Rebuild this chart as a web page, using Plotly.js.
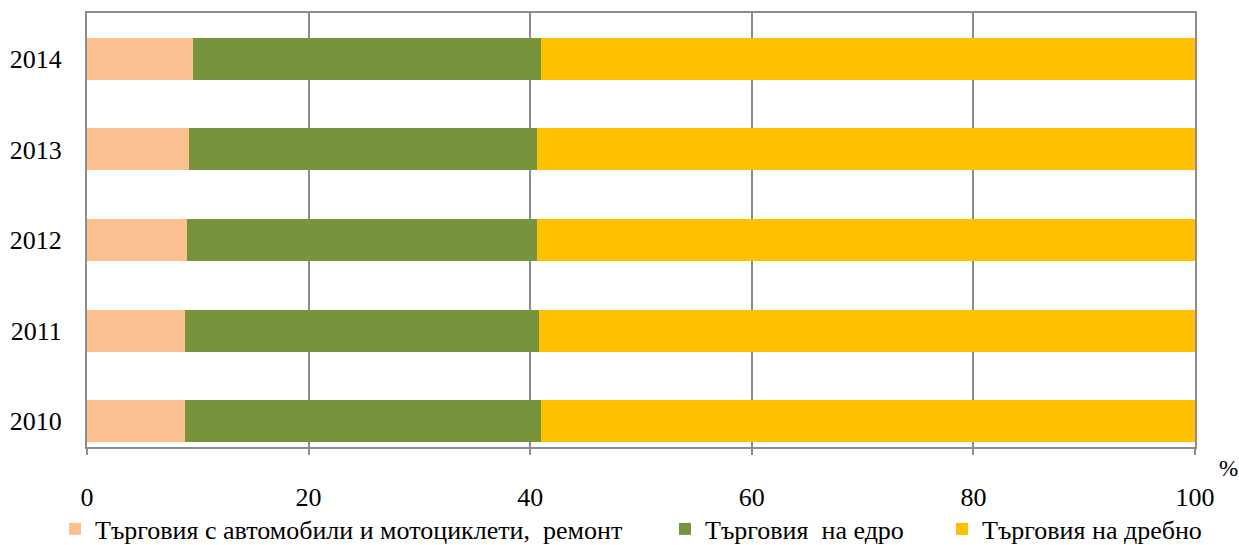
<!DOCTYPE html>
<html>
<head>
<meta charset="utf-8">
<script src="https://cdn.plot.ly/plotly-3.0.1.min.js"></script>
<style>html,body{margin:0;padding:0;background:#fff;}#chart{width:1239px;height:545px;}</style>
</head>
<body>
<div id="chart"></div>
<script>
const years = ["2010", "2011", "2012", "2013", "2014"];
const seriesNames = ["Търговия с автомобили и мотоциклети,\u00a0 ремонт", "Търговия\u00a0 на едро", "Търговия на дребно"];
const autoRepair = [8.87, 8.87, 9.05, 9.23, 9.6];
const wholesale = [32.07, 31.89, 31.53, 31.35, 31.34];
const retail = [59.06, 59.24, 59.42, 59.42, 59.06];
const xTicks = [0, 20, 40, 60, 80, 100];
const colors = ["#FAC090", "#77933C", "#FFC000"];

const serif = "Liberation Serif, Times New Roman, serif";
const vals = [autoRepair, wholesale, retail];
const legendIds = ["legend", "legend2", "legend3"];
const traces = vals.map((v, i) => ({
  type: "bar",
  orientation: "h",
  y: years,
  x: v,
  name: seriesNames[i],
  legend: legendIds[i],
  marker: {color: colors[i], line: {width: 0}},
  width: 0.464,
  hoverinfo: "x+name"
}));

const plotL = 87, plotW = 1108, plotB = 447, plotH = 434;
const legendLefts = [55, 665, 942];
function legendAt(left) {
  return {
    orientation: "h", x: (left - plotL) / plotW, xanchor: "left",
    y: -(529 - plotB) / plotH, yanchor: "middle", yref: "paper",
    font: {family: serif, size: 26}, bgcolor: "rgba(0,0,0,0)", borderwidth: 0
  };
}

const layout = {
  width: 1239, height: 545,
  margin: {l: 87, r: 44, t: 13, b: 98, autoexpand: false},
  barmode: "stack",
  paper_bgcolor: "#fff", plot_bgcolor: "#fff",
  font: {family: serif, size: 26, color: "#000"},
  xaxis: {
    range: [0, 100], tickvals: xTicks, ticktext: xTicks.map(String),
    showgrid: true, gridcolor: "#8c8c8c", gridwidth: 2,
    showline: true, linecolor: "#8c8c8c", linewidth: 2, mirror: true,
    ticks: "outside", ticklen: 6, tickcolor: "#8c8c8c", tickwidth: 2,
    ticklabelstandoff: 20, zeroline: false,
    tickfont: {family: serif, size: 26}
  },
  yaxis: {
    type: "category", range: [-0.287, 4.508],
    showgrid: false, showline: true, linecolor: "#8c8c8c", linewidth: 2, mirror: true,
    ticks: "", ticklabelstandoff: 18,
    tickfont: {family: serif, size: 26}
  },
  showlegend: true,
  legend: legendAt(legendLefts[0]),
  legend2: legendAt(legendLefts[1]),
  legend3: legendAt(legendLefts[2]),
  annotations: [{
    text: "%", xref: "paper", yref: "paper", x: 1.03, y: -0.05,
    xanchor: "center", yanchor: "middle", showarrow: false,
    font: {family: serif, size: 23}
  }]
};

Plotly.newPlot("chart", traces, layout, {displayModeBar: false, staticPlot: true});
</script>
</body>
</html>
